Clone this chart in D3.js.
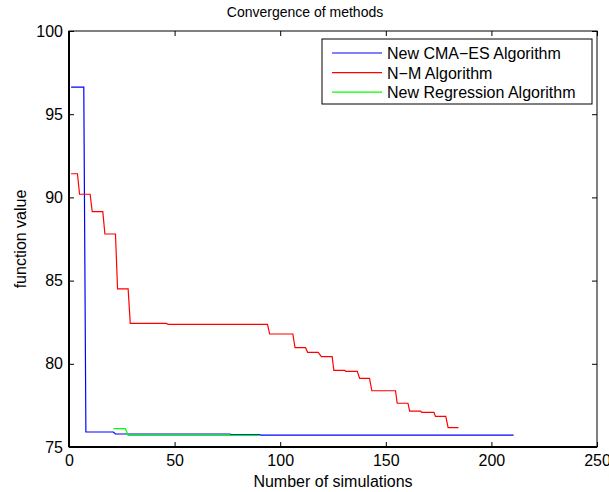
<!DOCTYPE html>
<html><head><meta charset="utf-8">
<script src="https://cdn.jsdelivr.net/npm/d3@7"></script>
<style>body{margin:0;background:#fff}text{font-family:"Liberation Sans",Arial,sans-serif;fill:#000}</style>
</head><body>
<script>
const xTicks=[0,50,100,150,200,250];
const yTicks=[75,80,85,90,95,100];
const seriesNames=["New CMA\u2212ES Algorithm","N\u2212M Algorithm","New Regression Algorithm"];
const seriesColors=["#0000ff","#ff0000","#00ff00"];
const cmaX=[1,7,8,21,22,76,77,90,91,210.5];
const cmaY=[96.63,96.63,75.90,75.90,75.78,75.78,75.74,75.74,75.71,75.71];
const nmX=[1,4,5,10,11,16,17,22,23,28,29,46,47,94,95,106,107,112,113,118,119.5,124.6,125.4,130.6,131,136.5,137.6,142.3,143.4,154.6,155.4,160.5,161.3,166.5,167,172.8,173.5,178.4,179.5,184.4];
const nmY=[91.42,91.42,90.19,90.19,89.14,89.14,87.80,87.80,84.50,84.50,82.43,82.43,82.37,82.37,81.79,81.79,80.97,80.97,80.69,80.69,80.43,80.43,79.61,79.61,79.55,79.55,79.13,79.13,78.38,78.38,77.63,77.63,77.16,77.16,77.08,77.08,76.84,76.84,76.16,76.16];
const regX=[21,26.7,28,90];
const regY=[76.10,76.10,75.70,75.70];

const W=609,H=492,L=69,R=597,T=31,B=447;
const svg=d3.select("body").append("svg").attr("width",W).attr("height",H);
const x=d3.scaleLinear().domain([0,250]).range([L,R]);
const y=d3.scaleLinear().domain([75,100]).range([B,T]);

const line=d3.line().x(d=>x(d[0])).y(d=>y(d[1]));
const series=[d3.zip(cmaX,cmaY),d3.zip(nmX,nmY),d3.zip(regX,regY)];
const g=svg.append("g");
g.append("rect").attr("x",L).attr("y",T).attr("width",R-L).attr("height",B-T).attr("fill","#fff");
[0,1,2].forEach(i=>{
  g.append("path").attr("d",line(series[i])).attr("fill","none").attr("stroke",seriesColors[i]).attr("stroke-width",1.2);
});
const fmt=d3.format("d");
const xb=svg.append("g").attr("transform",`translate(0,${B})`).call(d3.axisBottom(x).tickValues(xTicks).tickSize(-5).tickPadding(8).tickFormat(fmt));
const xt=svg.append("g").attr("transform",`translate(0,${T})`).call(d3.axisTop(x).tickValues(xTicks).tickSize(-5).tickFormat(""));
const yl=svg.append("g").attr("transform",`translate(${L},0)`).call(d3.axisLeft(y).tickValues(yTicks).tickSize(-5).tickPadding(6).tickFormat(fmt));
const yr=svg.append("g").attr("transform",`translate(${R},0)`).call(d3.axisRight(y).tickValues(yTicks).tickSize(-5).tickFormat(""));
[xb,xt,yl,yr].forEach(a=>{a.select(".domain").remove();a.selectAll("line").attr("stroke","#000");a.selectAll("text").attr("font-size",16).attr("font-family","Liberation Sans, Arial, sans-serif").attr("fill","#000");});
svg.append("rect").attr("x",L).attr("y",T).attr("width",R-L).attr("height",B-T).attr("fill","none").attr("stroke","#000").attr("stroke-width",1);
svg.append("line").attr("x1",L).attr("x2",R).attr("y1",B).attr("y2",B).attr("stroke","#000").attr("stroke-width",2);
svg.append("line").attr("x1",L).attr("x2",L).attr("y1",T).attr("y2",B).attr("stroke","#000").attr("stroke-width",2);

svg.append("text").attr("x",305).attr("y",17).attr("text-anchor","middle").attr("font-size",14).text("Convergence of methods");
svg.append("text").attr("x",(L+R)/2).attr("y",487).attr("text-anchor","middle").attr("font-size",16).text("Number of simulations");
svg.append("text").attr("transform",`translate(26,${(T+B)/2}) rotate(-90)`).attr("text-anchor","middle").attr("font-size",16).text("function value");

const lg=svg.append("g");
lg.append("rect").attr("x",322).attr("y",39).attr("width",270).attr("height",65).attr("fill","#fff").attr("stroke","#000").attr("stroke-width",1);
seriesNames.forEach((n,i)=>{
  const yy=53+i*19.6;
  lg.append("line").attr("x1",332).attr("x2",382).attr("y1",yy).attr("y2",yy).attr("stroke",seriesColors[i]).attr("stroke-width",1.2);
  lg.append("text").attr("x",387).attr("y",yy+6).attr("font-size",16).text(n);
});
</script>
</body></html>
